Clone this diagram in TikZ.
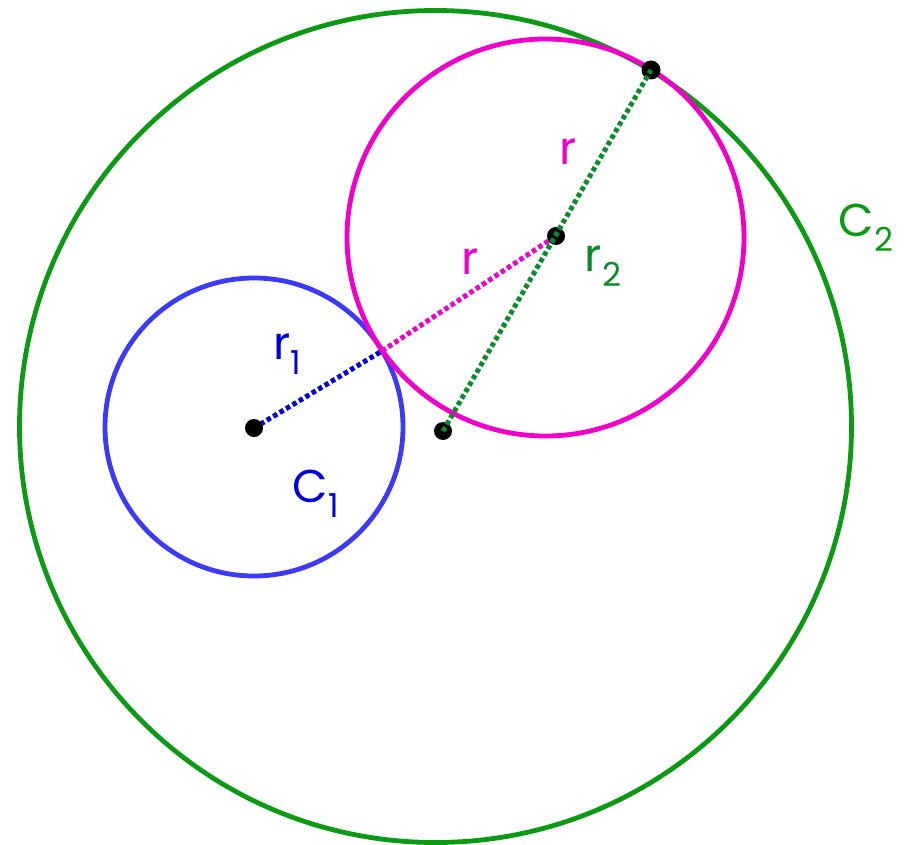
\documentclass[tikz,border=0pt]{standalone}
\usepackage{fontspec}
\setmainfont{Poppins}
\usetikzlibrary{calc}
\definecolor{cgreen}{HTML}{0C9A14}
\definecolor{dgreen}{HTML}{0A8C2A}
\definecolor{cmag}{HTML}{F000C8}
\definecolor{cblue}{HTML}{3A3AF8}
\definecolor{dblue}{HTML}{0000DC}
\newcommand{\lowidx}[1]{\raisebox{-0.32em}{\fontsize{33}{33}\selectfont #1}}
\tikzset{
  circ/.style={line width=4.8pt},
  radline/.style={line width=5pt, dash pattern=on 4.5pt off 3pt},
  lbl/.style={font=\fontsize{46}{50}\selectfont, inner sep=0pt}
}
\begin{document}
\begin{tikzpicture}[x=1pt,y=-1pt]
        \useasboundingbox (0,0) rectangle (904,845);
        % Punkte
        \coordinate (O2) at (443,431);
        \coordinate (O1) at (254,428);
        \coordinate (M) at (556,236);
        \coordinate (T) at (651,70);
        \coordinate (S) at (382,351);
        % Kreise
        \draw[cgreen, circ] (435.5,426.5) circle (416);
        \draw[cblue, circ] (254,427) circle (149);
        \draw[cmag, circ] (545.5,237.5) circle (198.5);
        % Radien
        \draw[dblue, radline] (O1) -- (S);
        \draw[cmag, radline] (S) -- (M);
        \fill (O1) circle (9);
        \fill (T) circle (9.5);
        \fill (M) circle (9);
        \fill (O2) circle (9);
        \draw[dgreen, radline] (O2) -- (T);
        % Beschriftung
        \node[lbl, cmag] (rTop) at (568,152) {r};
        \node[lbl, cmag] (rMid) at (470,262) {r};
        \node[lbl, dgreen] (rTwo) at (603,266) {r\lowidx{2}};
        \node[lbl, dblue] (rOne) at (287,354) {r\lowidx{1}};
        \node[lbl, cgreen] (cTwo) at (866,228) {C\lowidx{2}};
        \node[lbl, dblue] (cOne) at (316,494) {C\lowidx{1}};
      \end{tikzpicture}
\end{document}
